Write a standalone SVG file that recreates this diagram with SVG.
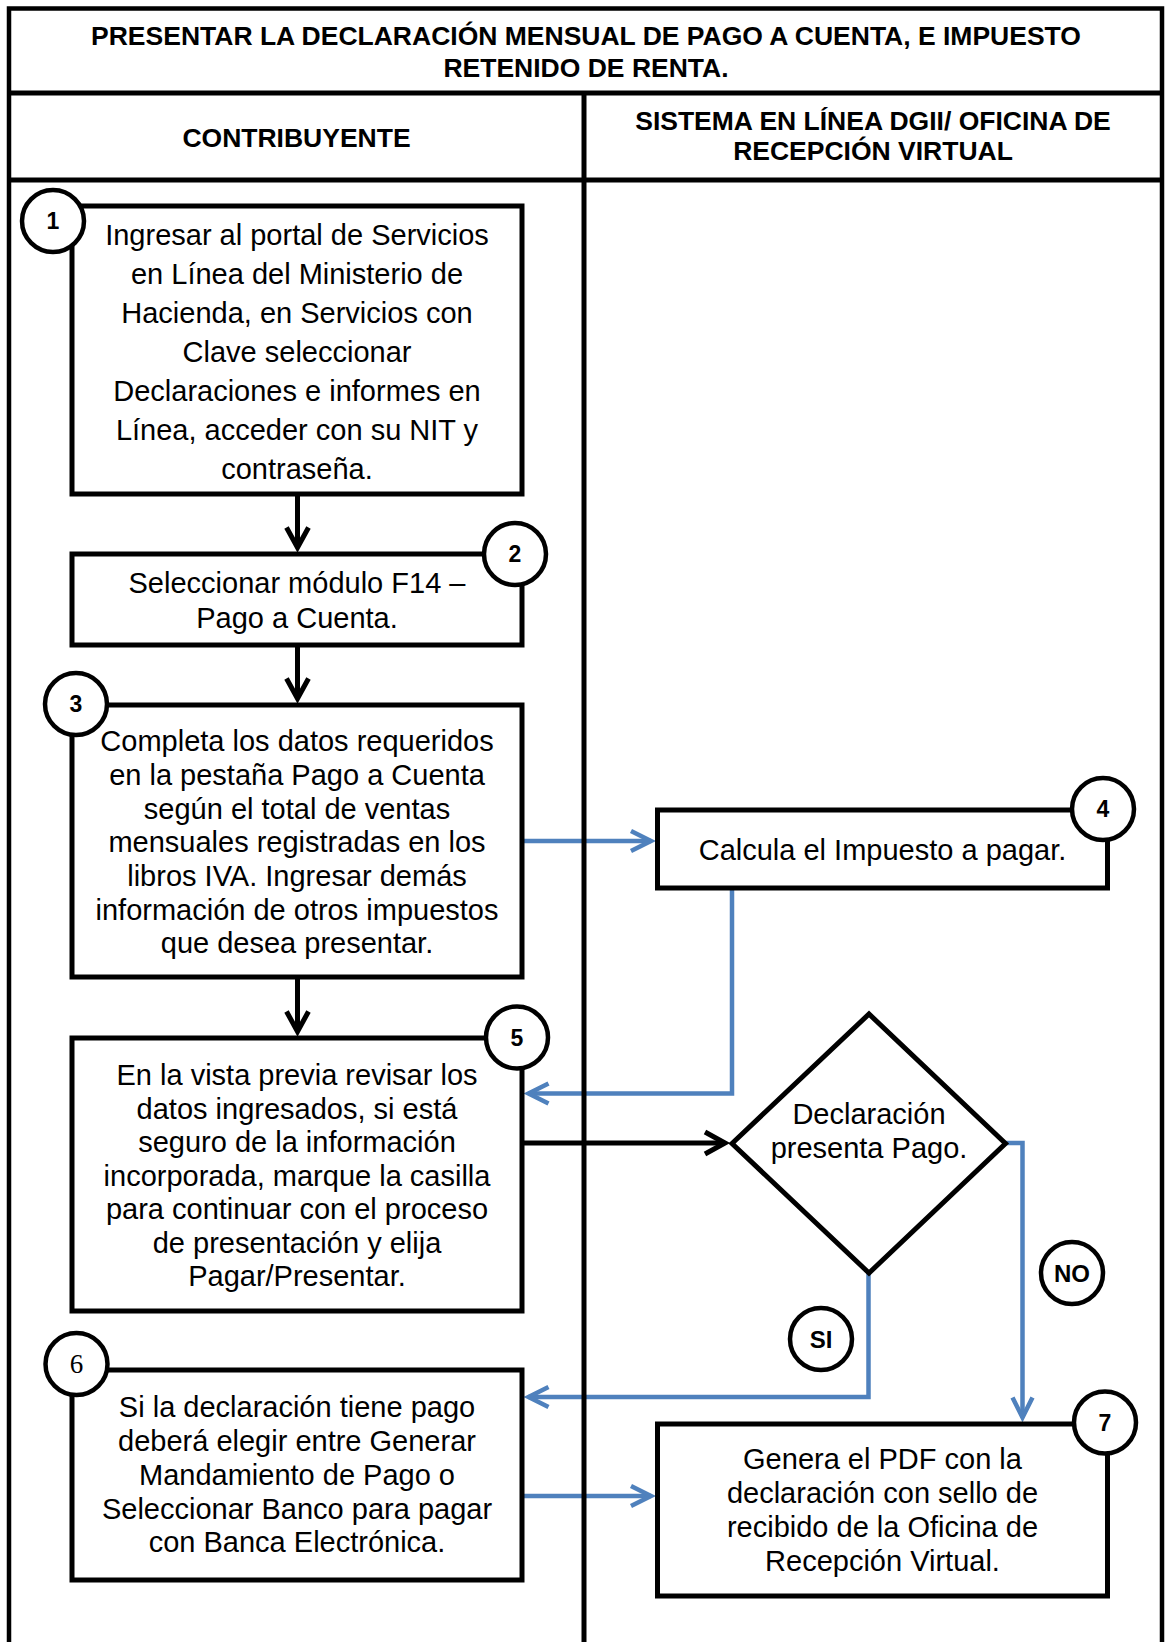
<svg xmlns="http://www.w3.org/2000/svg" width="1165" height="1642" viewBox="0 0 1165 1642">
  <style>
    .frame { fill: none; stroke: #000; stroke-width: 4.5; }
    .rule { stroke: #000; stroke-width: 5; }
    .box { fill: #fff; stroke: #000; stroke-width: 5; }
    .num { fill: #fff; stroke: #000; stroke-width: 4.5; }
    .head { font-family: "Liberation Sans", Arial, sans-serif; font-weight: bold; font-size: 26.5px; fill: #000; text-anchor: middle; }
    .body { font-family: "Liberation Sans", Arial, sans-serif; font-size: 29px; fill: #000; text-anchor: middle; }
    .lbl { font-family: "Liberation Sans", Arial, sans-serif; font-weight: bold; font-size: 23px; fill: #000; text-anchor: middle; }
    .dec { font-family: "Liberation Sans", Arial, sans-serif; font-weight: bold; font-size: 24px; fill: #000; text-anchor: middle; }
    .lbl-serif { font-family: "Liberation Serif", "Times New Roman", serif; font-size: 27px; fill: #000; text-anchor: middle; }
    .flow { fill: none; stroke: #000; stroke-width: 5; }
    .data { fill: none; stroke: #4F81BD; stroke-width: 4.5; }
  </style>
  <defs>
    <marker id="arrow-black" markerUnits="userSpaceOnUse" viewBox="-4 -16 30 32" markerWidth="30" markerHeight="32" refX="20" refY="0" orient="auto">
      <path d="M0,-11 L20,0 L0,11" fill="none" stroke="#000" stroke-width="5"/>
    </marker>
    <marker id="arrow-blue" markerUnits="userSpaceOnUse" viewBox="-4 -16 30 32" markerWidth="30" markerHeight="32" refX="20" refY="0" orient="auto">
      <path d="M0,-10 L20,0 L0,10" fill="none" stroke="#4F81BD" stroke-width="4.5"/>
    </marker>
  </defs>

  <rect x="0" y="0" width="1165" height="1642" fill="#fff"/>

  <!-- Title and lane headers -->
  <g id="title">
    <text class="head" x="586" y="45">PRESENTAR LA DECLARACIÓN MENSUAL DE PAGO A CUENTA, E IMPUESTO</text>
    <text class="head" x="586" y="77">RETENIDO DE RENTA.</text>
  </g>
  <g id="lane-contribuyente">
    <text class="head" x="296.5" y="146.5">CONTRIBUYENTE</text>
  </g>
  <g id="lane-sistema">
    <text class="head" x="873" y="130">SISTEMA EN LÍNEA DGII/ OFICINA DE</text>
    <text class="head" x="873" y="160">RECEPCIÓN VIRTUAL</text>
  </g>

  <!-- Connectors -->
  <g id="connectors">
    <path class="flow" d="M297.5,494 V547.5" marker-end="url(#arrow-black)"/>
    <path class="flow" d="M297.5,645 V698.5" marker-end="url(#arrow-black)"/>
    <path class="flow" d="M297.5,977 V1031.5" marker-end="url(#arrow-black)"/>
    <path class="flow" d="M522,1143 H725" marker-end="url(#arrow-black)"/>
    <path class="data" d="M522,841 H651" marker-end="url(#arrow-blue)"/>
    <path class="data" d="M732,888 V1093.5 H528.5" marker-end="url(#arrow-blue)"/>
    <path class="data" d="M1005.5,1143 H1022.5 V1417.5" marker-end="url(#arrow-blue)"/>
    <path class="data" d="M868.5,1273 V1397 H528.5" marker-end="url(#arrow-blue)"/>
    <path class="data" d="M522,1496 H651" marker-end="url(#arrow-blue)"/>
  </g>

  <!-- Outer frame and lane rules -->
  <g id="frame">
    <path class="frame" d="M9,1650 V8.5 H1162 V1650"/>
    <line class="rule" x1="9" y1="93" x2="1162" y2="93"/>
    <line class="rule" x1="9" y1="180" x2="1162" y2="180"/>
    <line class="rule" x1="584" y1="93" x2="584" y2="1650"/>
  </g>

  <!-- Step 1 -->
  <g id="step1">
    <rect class="box" x="72" y="206" width="450" height="288"/>
    <text class="body" x="297" y="245">Ingresar al portal de Servicios</text>
    <text class="body" x="297" y="284">en Línea del Ministerio de</text>
    <text class="body" x="297" y="323">Hacienda, en Servicios con</text>
    <text class="body" x="297" y="362">Clave seleccionar</text>
    <text class="body" x="297" y="401">Declaraciones e informes en</text>
    <text class="body" x="297" y="440">Línea, acceder con su NIT y</text>
    <text class="body" x="297" y="479">contraseña.</text>
    <circle class="num" cx="53" cy="221" r="31"/>
    <text class="lbl" x="53" y="229">1</text>
  </g>

  <!-- Step 2 -->
  <g id="step2">
    <rect class="box" x="72" y="554" width="450" height="91"/>
    <text class="body" x="297" y="593">Seleccionar módulo F14 –</text>
    <text class="body" x="297" y="628">Pago a Cuenta.</text>
    <circle class="num" cx="515" cy="554" r="31"/>
    <text class="lbl" x="515" y="562">2</text>
  </g>

  <!-- Step 3 -->
  <g id="step3">
    <rect class="box" x="72" y="705" width="450" height="272"/>
    <text class="body" x="297" y="751">Completa los datos requeridos</text>
    <text class="body" x="297" y="785">en la pestaña Pago a Cuenta</text>
    <text class="body" x="297" y="818.5">según el total de ventas</text>
    <text class="body" x="297" y="852">mensuales registradas en los</text>
    <text class="body" x="297" y="886">libros IVA. Ingresar demás</text>
    <text class="body" x="297" y="919.5">información de otros impuestos</text>
    <text class="body" x="297" y="953">que desea presentar.</text>
    <circle class="num" cx="76" cy="704" r="31"/>
    <text class="lbl" x="76" y="712">3</text>
  </g>

  <!-- Step 4 -->
  <g id="step4">
    <rect class="box" x="657.5" y="810" width="450" height="78"/>
    <text class="body" x="882.5" y="860">Calcula el Impuesto a pagar.</text>
    <circle class="num" cx="1103" cy="809" r="31"/>
    <text class="lbl" x="1103" y="817">4</text>
  </g>

  <!-- Step 5 -->
  <g id="step5">
    <rect class="box" x="72" y="1038" width="450" height="273"/>
    <text class="body" x="297" y="1085">En la vista previa revisar los</text>
    <text class="body" x="297" y="1118.5">datos ingresados, si está</text>
    <text class="body" x="297" y="1152">seguro de la información</text>
    <text class="body" x="297" y="1185.5">incorporada, marque la casilla</text>
    <text class="body" x="297" y="1219">para continuar con el proceso</text>
    <text class="body" x="297" y="1252.5">de presentación y elija</text>
    <text class="body" x="297" y="1286">Pagar/Presentar.</text>
    <circle class="num" cx="517" cy="1037.5" r="31"/>
    <text class="lbl" x="517" y="1045.5">5</text>
  </g>

  <!-- Decision -->
  <g id="decision">
    <polygon class="box" points="732,1143.5 869,1014 1005.5,1143.5 869,1273"/>
    <text class="body" x="869" y="1123.5">Declaración</text>
    <text class="body" x="869" y="1158">presenta Pago.</text>
  </g>
  <g id="label-si">
    <circle class="num" cx="821" cy="1339" r="31"/>
    <text class="dec" x="821" y="1347.5">SI</text>
  </g>
  <g id="label-no">
    <circle class="num" cx="1072" cy="1273" r="31"/>
    <text class="dec" x="1072" y="1281.5">NO</text>
  </g>

  <!-- Step 6 -->
  <g id="step6">
    <rect class="box" x="72" y="1370" width="450" height="210"/>
    <text class="body" x="297" y="1417">Si la declaración tiene pago</text>
    <text class="body" x="297" y="1451">deberá elegir entre Generar</text>
    <text class="body" x="297" y="1485">Mandamiento de Pago o</text>
    <text class="body" x="297" y="1519">Seleccionar Banco para pagar</text>
    <text class="body" x="297" y="1552">con Banca Electrónica.</text>
    <circle class="num" cx="76.5" cy="1364" r="31"/>
    <text class="lbl-serif" x="76.5" y="1373">6</text>
  </g>

  <!-- Step 7 -->
  <g id="step7">
    <rect class="box" x="657.5" y="1424" width="450" height="172"/>
    <text class="body" x="882.5" y="1469">Genera el PDF con la</text>
    <text class="body" x="882.5" y="1503">declaración con sello de</text>
    <text class="body" x="882.5" y="1537">recibido de la Oficina de</text>
    <text class="body" x="882.5" y="1571">Recepción Virtual.</text>
    <circle class="num" cx="1105" cy="1422.5" r="31"/>
    <text class="lbl" x="1105" y="1430.5">7</text>
  </g>
</svg>
